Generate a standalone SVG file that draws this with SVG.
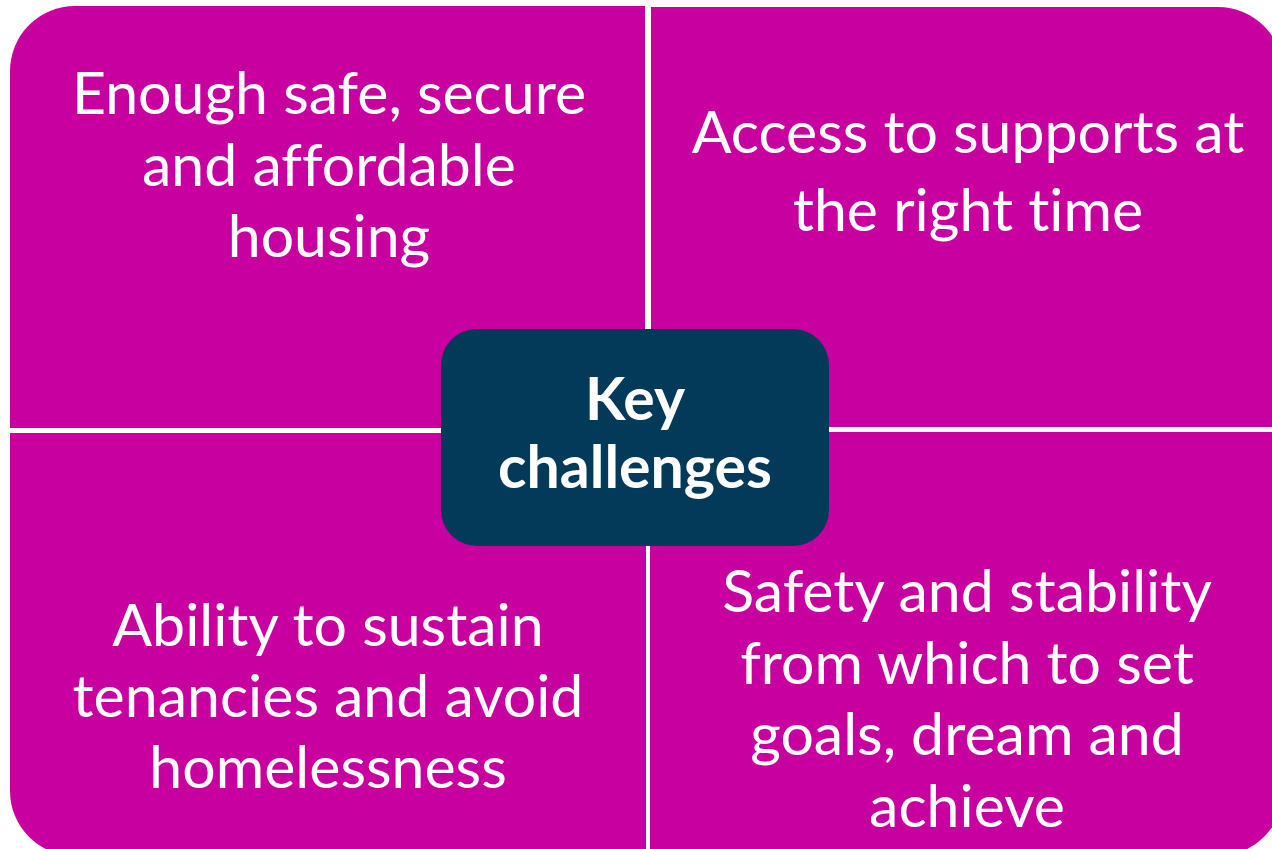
<svg xmlns="http://www.w3.org/2000/svg" width="1272" height="849" viewBox="0 0 1272 849">
  <style>
    .quad { fill: #C7009F; }
    .center { fill: #033A5A; }
    .lbl { font-family: Lato, "Liberation Sans", sans-serif; font-size: 59px; fill: #FFFFFF; text-anchor: middle; font-variant-ligatures: none; font-feature-settings: "liga" 0, "clig" 0; }
    .title { font-family: Lato, "Liberation Sans", sans-serif; font-size: 59px; font-weight: bold; fill: #FFFFFF; text-anchor: middle; font-variant-ligatures: none; font-feature-settings: "liga" 0, "clig" 0; }
  </style>
  <rect x="0" y="0" width="1272" height="849" fill="#FFFFFF"/>
  <g id="connectors"></g>
  <g id="q-housing">
    <path class="quad" d="M10,428 V71 A65,65 0 0 1 75,6 H645 V428 Z"/>
    <text class="lbl" x="329" y="114">Enough safe, secure</text>
    <text class="lbl" x="329" y="186">and affordable</text>
    <text class="lbl" x="329" y="257">housing</text>
  </g>
  <g id="q-supports">
    <path class="quad" d="M651,7 H1218 A65,65 0 0 1 1283,72 V427 H651 Z"/>
    <text class="lbl" x="968" y="153">Access to supports at</text>
    <text class="lbl" x="968" y="231">the right time</text>
  </g>
  <g id="q-tenancies">
    <path class="quad" d="M10,433 H646 V856 H75 A65,65 0 0 1 10,791 Z"/>
    <text class="lbl" x="328" y="646">Ability to sustain</text>
    <text class="lbl" x="328" y="717">tenancies and avoid</text>
    <text class="lbl" x="328" y="788">homelessness</text>
  </g>
  <g id="q-safety">
    <path class="quad" d="M650,432 H1283 V791 A65,65 0 0 1 1218,856 H650 Z"/>
    <text class="lbl" x="967" y="612">Safety and stability</text>
    <text class="lbl" x="967" y="684">from which to set</text>
    <text class="lbl" x="967" y="755">goals, dream and</text>
    <text class="lbl" x="967" y="827">achieve</text>
  </g>
  <g id="key-challenges">
    <rect class="center" x="441" y="329" width="388" height="217" rx="36" ry="36"/>
    <text class="title" x="635" y="420">Key</text>
    <text class="title" x="635" y="488">challenges</text>
  </g>
</svg>
